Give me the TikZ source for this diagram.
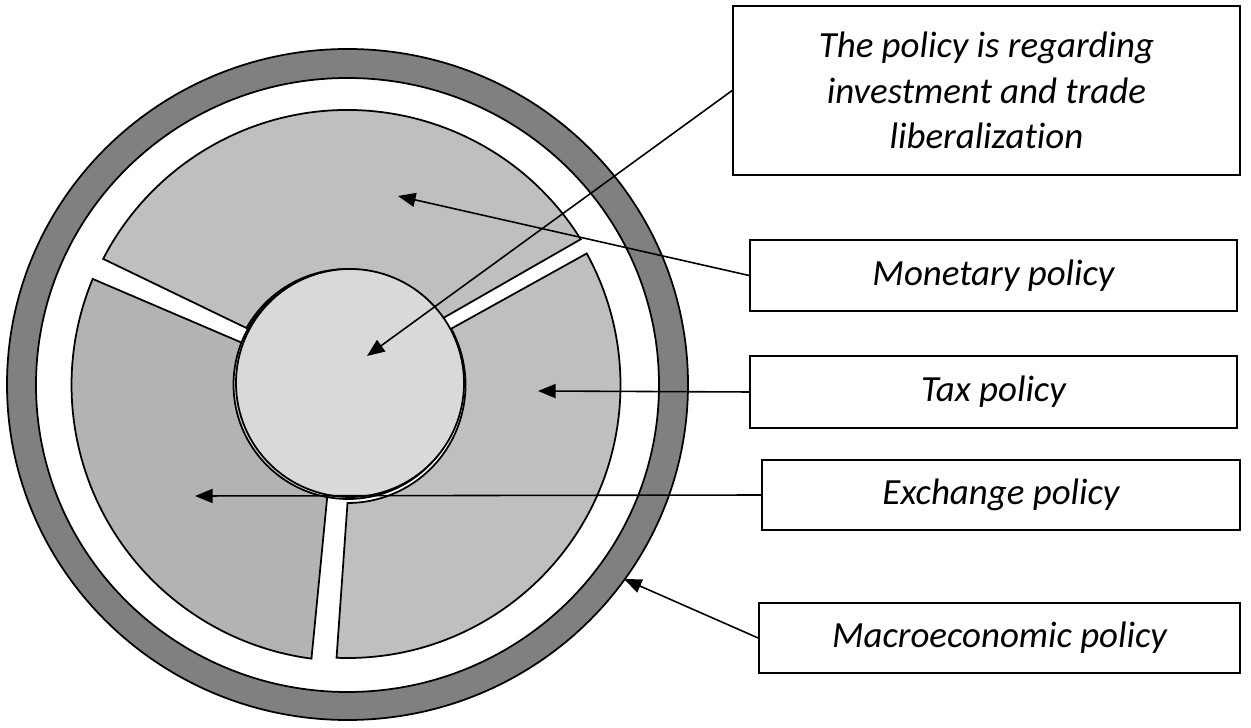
\documentclass[tikz,border=0pt]{standalone}
\usepackage{fontspec}
\setmainfont[Ligatures=NoCommon]{Carlito}
\usepackage{tikz}
\usetikzlibrary{arrows.meta,calc}
\definecolor{ringgray}{RGB}{128,128,128}
\definecolor{sectorlight}{RGB}{191,191,191}
\definecolor{sectordark}{RGB}{179,179,179}
\definecolor{corefill}{RGB}{217,217,217}
\tikzset{
  policybox/.style={draw,line width=1pt,inner sep=0pt,align=center,
    font=\fontsize{21}{26}\selectfont\itshape},
  outline/.style={draw,line width=1pt},
  pointer/.style={line width=0.9pt,-{Triangle[length=10pt,width=8pt]}}
}

\begin{document}
\begin{tikzpicture}[x=0.02cm,y=0.02cm]
    \useasboundingbox (0,0) rectangle (1251,727);
    \coordinate (C) at (347.5,342);
    % outer ring
    \fill[ringgray,even odd rule]
      (347.5,342.5) ellipse [x radius=340.5,y radius=335.5]
      (347.5,342) ellipse [x radius=311.5,y radius=307];
    \draw[line width=1pt] (347.5,342.5) ellipse [x radius=340.5,y radius=335.5];
    \draw[line width=1pt] (347.5,342) ellipse [x radius=311.5,y radius=307];
    % three sectors
    \filldraw[outline,fill=sectorlight]
      ($(C)+(32:275)$) arc[start angle=32,end angle=152.7,radius=275]
        -- ($(C)+(150.6:116)$) arc[start angle=150.6,end angle=35,radius=116] -- cycle;
    \filldraw[outline,fill=sectorlight]
      ($(C)+(-92.3:273)$) arc[start angle=-92.3,end angle=28.8,radius=273]
        -- ($(C)+(28.5:118)$) arc[start angle=28.5,end angle=-90,radius=118] -- cycle;
    \filldraw[outline,fill=sectordark]
      ($(C)+(157.4:276)$) arc[start angle=157.4,end angle=262.5,radius=276]
        -- ($(C)+(259.7:113)$) arc[start angle=259.7,end angle=158.2,radius=113] -- cycle;
    % centre
    \filldraw[outline,fill=corefill] (348,342.5) circle [radius=114.5];
    \filldraw[outline,fill=corefill] (350,344) circle [radius=114];
    % labels
    \node[policybox,minimum width=10.14cm,minimum height=3.38cm] (trade) at (986.5,636.5)
      {The policy is regarding\\investment and trade\\liberalization};
    \node[policybox,minimum width=9.74cm,minimum height=1.42cm] (monetary) at (993.5,451.5) {Monetary policy};
    \node[policybox,minimum width=9.74cm,minimum height=1.44cm] (tax) at (993.5,335) {Tax policy};
    \node[policybox,minimum width=9.56cm,minimum height=1.4cm] (exchange) at (1001,232) {Exchange policy};
    \node[policybox,minimum width=9.62cm,minimum height=1.4cm] (macro) at (999.5,89) {Macroeconomic policy};
    \coordinate (tradetip) at (367,371);
    \coordinate (monetarytip) at (398,531);
    \coordinate (taxtip) at (538,336);
    \coordinate (exchangetip) at (195,231);
    \coordinate (macrotip) at (624,148);
    \draw[pointer] (trade.west) -- (tradetip);
    \draw[pointer] (monetary.west) -- (monetarytip);
    \draw[pointer] (tax.west) -- (taxtip);
    \draw[pointer] (exchange.west) -- (exchangetip);
    \draw[pointer] (macro.west) -- (macrotip);
\end{tikzpicture}
\end{document}
